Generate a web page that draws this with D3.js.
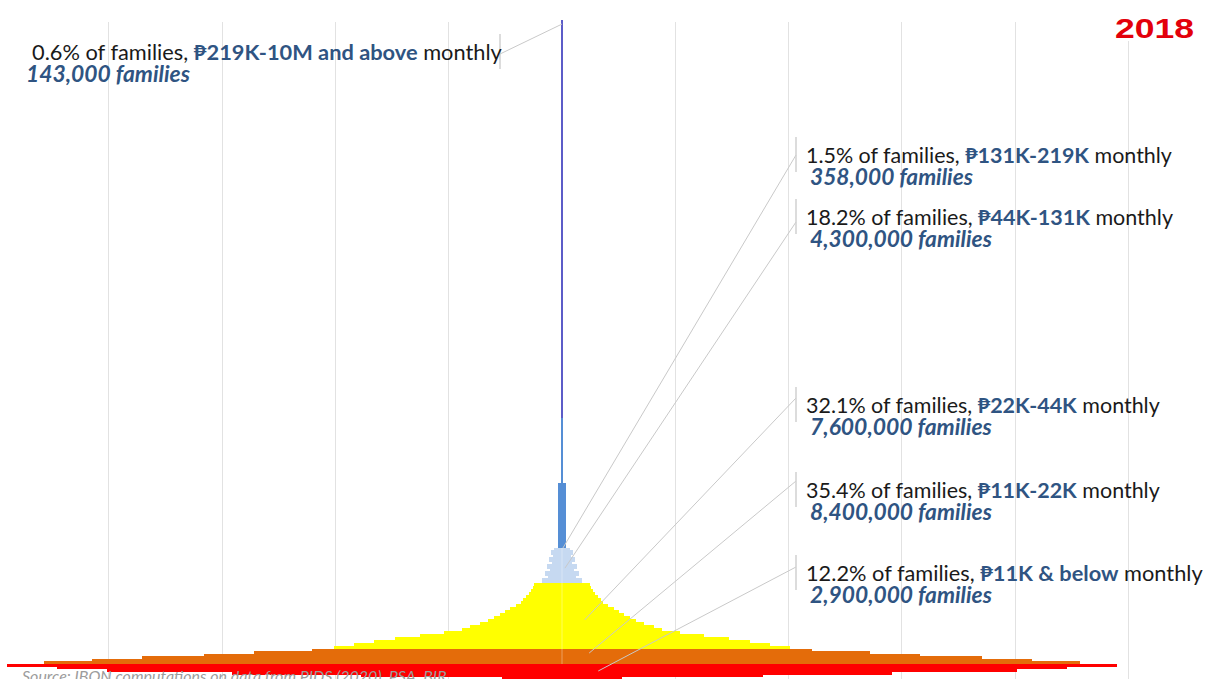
<!DOCTYPE html>
<html>
<head>
<meta charset="utf-8">
<script src="https://cdn.jsdelivr.net/npm/d3@7"></script>
<style>
  html, body { margin: 0; padding: 0; background: #fff; overflow: hidden; }
  svg { display: block; }
</style>
</head>
<body>
<svg id="chart" width="1206" height="679"></svg>
<script>
// ---------------- DATA ----------------
// Income brackets (monthly family income, thousand pesos)
const bracketNames = ["₱11K & below", "₱11K-22K", "₱22K-44K", "₱44K-131K", "₱131K-219K", "₱219K-10M and above"];
const bracketLow   = [0, 11, 22, 44, 131, 219];
const bracketHigh  = [11, 22, 44, 131, 219, 10000];
const sharePct     = ["12.2%", "35.4%", "32.1%", "18.2%", "1.5%", "0.6%"];
const familyCounts = ["2,900,000", "8,400,000", "7,600,000", "4,300,000", "358,000", "143,000"];
const bracketColors = ["#ff0000", "#e46c0a", "#ffff00", "#c6d9f1", "#558ed5", "#5c5cc8"];

// Families per income bin (thousands), bottom (lowest income) to top, per bracket
const binsRed      = [53, 177, 291, 402, 446, 490];
const binsOrange   = [457, 415, 371, 316, 272, 221];
const binsYellow   = [201, 184, 166, 147, 125, 104, 88, 81, 72, 65, 60, 55, 50, 46, 41, 36, 34, 32, 29, 27, 26, 25];
const binsPaleBlue = [17.7, 17.7, 12.4, 15.4, 15.4, 10.6, 13.2, 13.2, 8.8, 11.9, 11.9, 7.9, 9.7, 9.7, 7.1];
const binsBlue     = [3.2, 3.1, 1.2, 1.1];
const binsPurple   = [1.1, 1.1, 1.0, 1.0];
const bracketBins  = [binsRed, binsOrange, binsYellow, binsPaleBlue, binsBlue, binsPurple];

// Grid ticks (families per bin, thousands, centred)
const gridTicks = [-250, -200, -150, -100, -50, 0, 50, 100, 150, 200, 250];

const yearLabel = "2018";
const sourceText = "Source: IBON computations on data from PIDS (2020), PSA, BIR";

// ---------------- LAYOUT ----------------
const W = 1206, H = 679;
const svg = d3.select("#chart");
const FONT = "Lato, 'Noto Sans', 'DejaVu Sans', sans-serif";
const BLUE_TEXT = "#2f5482";

const x = d3.scaleLinear().domain([-250, 250]).range([-4.5, 1128.5]);
const y = d3.scaleLinear()
  .domain([0, 11, 22, 44, 131, 219, 10000])
  .range([680, 664, 648.5, 583, 548, 418, 20]);

// Grid
svg.append("g").selectAll("line").data(gridTicks).join("line")
  .attr("x1", d => x(d)).attr("x2", d => x(d))
  .attr("y1", 22).attr("y2", H)
  .attr("stroke", "#e2e2e2").attr("stroke-width", 1)
  .attr("shape-rendering", "crispEdges");

// Build bins
const bins = [];
bracketBins.forEach((arr, bi) => {
  const step = (bracketHigh[bi] - bracketLow[bi]) / arr.length;
  arr.forEach((v, i) => {
    bins.push({ bracket: bi, lo: bracketLow[bi] + i * step, hi: bracketLow[bi] + (i + 1) * step, v });
  });
});

svg.append("g").selectAll("rect").data(bins).join("rect")
  .attr("x", d => x(-d.v / 2))
  .attr("width", d => x(d.v / 2) - x(-d.v / 2))
  .attr("y", d => y(d.hi))
  .attr("height", d => y(d.lo) - y(d.hi))
  .attr("fill", d => bracketColors[d.bracket])
  .attr("shape-rendering", "crispEdges");

// faint centre seam
svg.append("line")
  .attr("x1", x(0)).attr("x2", x(0)).attr("y1", y(131)).attr("y2", y(11))
  .attr("stroke", "#fff").attr("stroke-opacity", 0.35).attr("stroke-width", 1);

// Source
const src = svg.append("text")
  .attr("x", 22).attr("y", 682)
  .attr("font-family", FONT).attr("font-style", "italic")
  .attr("font-size", 15).attr("fill", "#9c9c9c")
  .text(sourceText);

// ---------------- ANNOTATIONS ----------------
// bracket index, label side, baseline, leader start, leader end (data coords)
const annotations = [
  { b: 5, tx: 32, fx: 26, base: 60, w1: 470, w2: 164, tick: 500, start: [500, 54], end: [0.0, 9900] },
  { b: 4, tx: 806, fx: 810, base: 163, w1: 366, w2: 163, tick: 796, start: [796, 155], end: [0.4, 131] },
  { b: 3, tx: 806, fx: 810, base: 225, w1: 367, w2: 182, tick: 796, start: [796, 222], end: [1.3, 81] },
  { b: 2, tx: 806, fx: 810, base: 413, w1: 354, w2: 182, tick: 796, start: [796, 398], end: [10, 31.6] },
  { b: 1, tx: 806, fx: 810, base: 498, w1: 354, w2: 182, tick: 796, start: [796, 481], end: [12, 18.8] },
  { b: 0, tx: 806, fx: 810, base: 581, w1: 397, w2: 182, tick: 796, start: [796, 567], end: [16, 6.2] }
];

const ag = svg.append("g");
annotations.forEach(a => {
  // leader
  ag.append("line")
    .attr("x1", a.start[0]).attr("y1", a.start[1])
    .attr("x2", x(a.end[0])).attr("y2", y(a.end[1]))
    .attr("stroke", "#c9c9c9").attr("stroke-width", 1);
  // tick bracket
  ag.append("line")
    .attr("x1", a.tick).attr("x2", a.tick)
    .attr("y1", a.base - 26).attr("y2", a.base + 9)
    .attr("stroke", "#d0d0d0").attr("stroke-width", 1.5);

  const t1 = ag.append("text")
    .attr("x", a.tx).attr("y", a.base)
    .attr("font-family", FONT).attr("font-size", 20).attr("fill", "#1a1a1a");
  t1.append("tspan").text(sharePct[a.b] + " of families, ");
  t1.append("tspan").attr("font-weight", 700).attr("fill", BLUE_TEXT).text(bracketNames[a.b]);
  t1.append("tspan").text(" monthly");
  const w1 = t1.node().getComputedTextLength();
  t1.attr("font-size", 20 * a.w1 / w1);

  const t2 = ag.append("text")
    .attr("x", a.fx).attr("y", a.base + 22)
    .attr("font-family", FONT).attr("font-size", 20)
    .attr("font-weight", 700).attr("font-style", "italic")
    .attr("fill", BLUE_TEXT)
    .text(familyCounts[a.b] + " families");
  const w2 = t2.node().getComputedTextLength();
  t2.attr("font-size", 20 * a.w2 / w2);
});

// fit source
{
  const w = src.node().getComputedTextLength();
  src.attr("font-size", 15 * 425 / w);
}

// Year
svg.append("rect").attr("x", 1100).attr("y", 0).attr("width", 106).attr("height", 41).attr("fill", "#fff");
svg.append("text")
  .attr("x", 1115).attr("y", 38)
  .attr("font-family", "'Liberation Sans', Arial, sans-serif")
  .attr("font-weight", 700).attr("font-size", 28)
  .attr("fill", "#e3000b")
  .attr("textLength", 79).attr("lengthAdjust", "spacingAndGlyphs")
  .text(yearLabel);
</script>
</body>
</html>
